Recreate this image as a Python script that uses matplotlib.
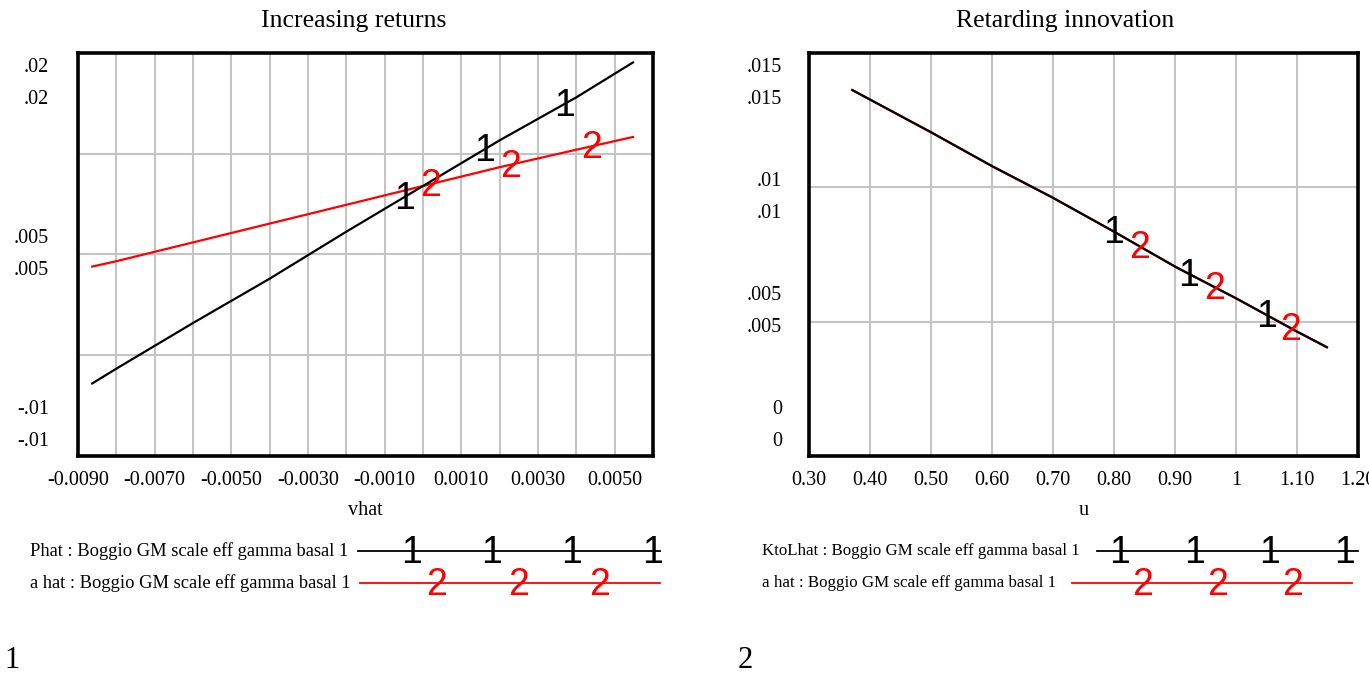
import numpy as np
import matplotlib
matplotlib.use("Agg")
import matplotlib.pyplot as plt
from matplotlib.transforms import offset_copy
from matplotlib.lines import Line2D
from matplotlib import font_manager

SERIF = ["Liberation Serif", "DejaVu Serif"]
names = {f.name for f in font_manager.fontManager.ttflist}
SANS = ["Liberation Sans Narrow", "Liberation Sans"] if "Liberation Sans Narrow" in names else ["Liberation Sans"]
GRID = "#c4c4c4"; RED = "#ff0000"; INK = "#000000"

# ---------- data ----------
# panel 1: Increasing returns (x = vhat)
vhat = [-0.00863, -0.008, -0.006, -0.004, -0.002, 0.0, 0.002, 0.004, 0.00548]
phat = [-0.0046, -0.0035, -0.0001, 0.0032, 0.0067, 0.0101, 0.0135, 0.0167, 0.0193]
ahat1 = [0.0041, 0.0045, 0.0059, 0.0073, 0.0087, 0.0101, 0.0115, 0.0128, 0.01375]
mark1_phat = [-0.00049, 0.0016, 0.0037]
mark1_ahat = [0.0002, 0.00228, 0.0044]
xt1 = np.round(np.arange(-0.009, 0.0061, 0.001), 4)
xt1_lab = ["-0.0090", "", "-0.0070", "", "-0.0050", "", "-0.0030", "", "-0.0010",
           "", "0.0010", "", "0.0030", "", "0.0050", ""]
yt1 = [-0.01, -0.0025, 0.005, 0.0125, 0.02]
yt1_lab = {0.02: ".02", 0.005: ".005", -0.01: "-.01"}

# panel 2: Retarding innovation (x = u)
u = [0.371, 0.5, 0.6, 0.7, 0.8, 0.9, 1.0, 1.1, 1.149]
ktolhat = [0.01362, 0.01205, 0.01079, 0.00961, 0.00835, 0.00705, 0.00587, 0.00463, 0.00405]
ahat2 = [0.01362, 0.01205, 0.01079, 0.00961, 0.00835, 0.00705, 0.00587, 0.00463, 0.00405]
mark2_k = [0.7993, 0.9223, 1.050]
mark2_a = [0.8415, 0.9646, 1.0895]
xt2 = np.round(np.arange(0.3, 1.201, 0.1), 2)
xt2_lab = ["0.30", "0.40", "0.50", "0.60", "0.70", "0.80", "0.90", "1", "1.10", "1.20"]
yt2 = [0.0, 0.005, 0.01, 0.015]
yt2_lab = {0.015: ".015", 0.01: ".01", 0.005: ".005", 0.0: "0"}

W, H = 1369, 682
fig = plt.figure(figsize=(W / 100, H / 100), dpi=100)
fig.patch.set_facecolor("white")

def px(x0, y0, x1, y1):
    return [x0 / W, 1 - y1 / H, (x1 - x0) / W, (y1 - y0) / H]

ax1 = fig.add_axes(px(78, 53, 653, 456))
ax2 = fig.add_axes(px(809, 53, 1358, 456))

def style(ax, xt, xlab, yt, xlim, ylim, title, tx, xname):
    ax.set_xlim(*xlim); ax.set_ylim(*ylim)
    ax.set_xticks(xt); ax.set_yticks(yt)
    ax.set_xticklabels(xlab, family=SERIF, fontsize=14.5)
    ax.set_yticklabels([])
    ax.tick_params(axis="x", length=0, pad=11)
    ax.tick_params(axis="y", length=0)
    ax.grid(True, color=GRID, lw=1.5)
    ax.set_axisbelow(True)
    for s in ax.spines.values():
        s.set_linewidth(2.6); s.set_color(INK)
    ax.text(tx, 1.0, title, transform=offset_copy(ax.transAxes, fig=fig, y=32, units="dots"),
            ha="center", va="center", family=SERIF, fontsize=18.5)
    ax.set_xlabel(xname, family=SERIF, fontsize=14.5, labelpad=8)

style(ax1, xt1, xt1_lab, yt1, (-0.009, 0.006), (-0.01, 0.02), "Increasing returns", 0.48, "vhat")
style(ax2, xt2, xt2_lab, yt2, (0.3, 1.2), (0.0, 0.015), "Retarding innovation", 0.466, "u")

# dual-scale y labels (one per variable), Vensim style
def ylabels(ax, labs, ylim, dx):
    lo, hi = ylim
    for v, s in labs.items():
        yf = (v - lo) / (hi - lo)
        f = 1 - yf
        c = -31 * (1 - 2 * f)
        for dy in (c + 16, c - 16):
            tr = offset_copy(ax.transAxes, fig=fig, x=dx, y=dy, units="dots")
            ax.text(0, yf, s, transform=tr, ha="right", va="center",
                    family=SERIF, fontsize=14.5)

ylabels(ax1, yt1_lab, (-0.01, 0.02), -29)
ylabels(ax2, yt2_lab, (0.0, 0.015), -27)

# lines
ax1.plot(vhat, ahat1, color=RED, lw=1.6, zorder=3)
ax1.plot(vhat, phat, color=INK, lw=1.6, zorder=4)
ax2.plot(u, ahat2, color=RED, lw=1.6, zorder=3)
ax2.plot(u, ktolhat, color=INK, lw=1.6, zorder=4)

MK = 27

def marks(ax, xs, xdata, ydata, s, col, dy=-2):
    for x in xs:
        y = np.interp(x, xdata, ydata)
        tr = offset_copy(ax.transData, fig=fig, x=0, y=dy, units="dots")
        ax.text(x, y, s, transform=tr, ha="center", va="center",
                color=col, family=SANS, fontsize=MK, zorder=5)

marks(ax1, mark1_phat, vhat, phat, "1", INK)
marks(ax1, mark1_ahat, vhat, ahat1, "2", RED)
marks(ax2, mark2_k, u, ktolhat, "1", INK)
marks(ax2, mark2_a, u, ahat2, "2", RED)

# legends drawn in figure pixels
def ftext(x, y, s, **kw):
    fig.text(x / W, 1 - y / H, s, **kw)

def fline(x0, x1, y, col):
    fig.add_artist(Line2D([x0 / W, x1 / W], [1 - y / H, 1 - y / H], color=col, lw=1.3,
                          transform=fig.transFigure))

def legend(x_text, name, y, x0, x1, col, digit, mx, fs):
    ftext(x_text, y, name + " : Boggio GM scale eff gamma basal 1", ha="left", va="center",
          family=SERIF, fontsize=fs)
    fline(x0, x1, y, col)
    for m in mx:
        ftext(m, y + 2, digit, ha="center", va="center", color=col, family=SANS, fontsize=MK)

legend(30, "Phat", 551, 358, 660, INK, "1", [412, 492, 572, 653], 13.3)
legend(30, "a hat", 583, 360, 660, RED, "2", [437, 519, 600], 13.3)
legend(762, "KtoLhat", 551, 1097, 1358, INK, "1", [1120, 1195, 1270, 1345], 12.2)
legend(762, "a hat", 583, 1072, 1352, RED, "2", [1143, 1218, 1293], 12.2)

ftext(12, 660, "1", ha="center", va="center", family=SERIF, fontsize=22)
ftext(745, 660, "2", ha="center", va="center", family=SERIF, fontsize=22)

fig.savefig("out.png", dpi=100)
